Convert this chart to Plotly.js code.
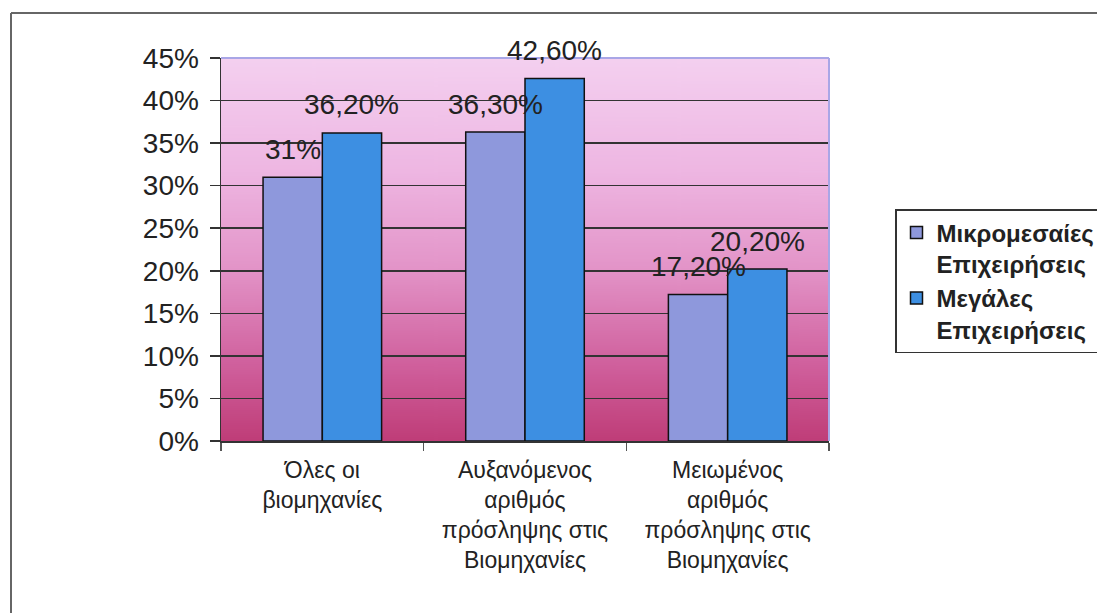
<!DOCTYPE html>
<html>
<head>
<meta charset="utf-8">
<script src="https://cdn.plot.ly/plotly-3.0.1.min.js"></script>
<style>
html,body{margin:0;padding:0;background:#fff;}
#chart{width:1097px;height:613px;}
</style>
</head>
<body>
<div id="chart"></div>
<script>
// ---- data ----
const categories = [
  'Όλες οι<br>βιομηχανίες',
  'Αυξανόμενος<br>αριθμός<br>πρόσληψης στις<br>Βιομηχανίες',
  'Μειωμένος<br>αριθμός<br>πρόσληψης στις<br>Βιομηχανίες'
];
const seriesNames = ['Μικρομεσαίες<br>Επιχειρήσεις', 'Μεγάλες<br>Επιχειρήσεις'];
const smeValues = [0.31, 0.363, 0.172];
const largeValues = [0.362, 0.426, 0.202];
const smeLabels = ['31%', '36,30%', '17,20%'];
const largeLabels = ['36,20%', '42,60%', '20,20%'];
const yTickValues = [0, 0.05, 0.10, 0.15, 0.20, 0.25, 0.30, 0.35, 0.40, 0.45];
const yTickLabels = ['0%', '5%', '10%', '15%', '20%', '25%', '30%', '35%', '40%', '45%'];

// ---- style ----
const W = 1097, H = 613;
const M = {l: 221, r: 268, t: 58, b: 172, autoexpand: false};
const BARGAP = 0.415;
const FONT = 'Liberation Sans, Arial, sans-serif';
const colors = ['#8e98dc', '#3d8fe2'];
const labelShift = 28;

// gradient background image
function gradientURL() {
  const c = document.createElement('canvas');
  c.width = 10; c.height = 400;
  const g = c.getContext('2d');
  const grd = g.createLinearGradient(0, 0, 0, 400);
  grd.addColorStop(0, '#f4d0f0');
  grd.addColorStop(0.3, '#eeb6e2');
  grd.addColorStop(0.55, '#e394c8');
  grd.addColorStop(0.8, '#d0609d');
  grd.addColorStop(1, '#bf3d78');
  g.fillStyle = grd;
  g.fillRect(0, 0, 10, 400);
  return c.toDataURL();
}

const traces = [
  {type: 'bar', x: categories, y: smeValues, name: seriesNames[0],
   marker: {color: colors[0], line: {color: '#111', width: 1.5}}, hoverinfo: 'none'},
  {type: 'bar', x: categories, y: largeValues, name: seriesNames[1],
   marker: {color: colors[1], line: {color: '#111', width: 1.5}}, hoverinfo: 'none'}
];

const off = (1 - BARGAP) / 4;
const annotations = [];
[[smeValues, smeLabels, -off], [largeValues, largeLabels, off]].forEach(([vals, labs, o]) => {
  vals.forEach((v, i) => {
    annotations.push({
      x: i + o, y: v, xref: 'x', yref: 'y', text: labs[i], showarrow: false,
      xanchor: 'center', yanchor: 'middle', yshift: labelShift,
      font: {family: FONT, size: 28, color: '#222'}
    });
  });
});

const pw = W - M.l - M.r, ph = H - M.t - M.b;
const px = v => (v - M.l) / pw;
const py = v => (H - M.b - v) / ph;

const shapes = [
  // plot area border top & right (lavender)
  {type: 'line', xref: 'paper', yref: 'paper', x0: 0, x1: 1, y0: 1, y1: 1, line: {color: '#a9a6e6', width: 2}, layer: 'above'},
  {type: 'line', xref: 'paper', yref: 'paper', x0: 1, x1: 1, y0: 0, y1: 1, line: {color: '#a9a6e6', width: 2}, layer: 'above'},
  // outer frame left & top
  {type: 'line', xref: 'paper', yref: 'paper', x0: px(11), x1: px(11), y0: py(13), y1: py(613), line: {color: '#666', width: 2}},
  {type: 'line', xref: 'paper', yref: 'paper', x0: px(11), x1: px(1097), y0: py(13), y1: py(13), line: {color: '#666', width: 2}}
];

const layout = {
  width: W, height: H,
  margin: M,
  paper_bgcolor: '#fff',
  plot_bgcolor: 'rgba(0,0,0,0)',
  barmode: 'group',
  bargap: BARGAP,
  bargroupgap: 0,
  font: {family: FONT, color: '#222'},
  showlegend: true,
  legend: {
    x: px(895), y: py(209), xanchor: 'left', yanchor: 'top',
    bgcolor: '#fff', bordercolor: '#333', borderwidth: 1.5,
    font: {family: FONT, size: 24, color: '#222', weight: 'bold'},
    valign: 'top', itemwidth: 30, tracegroupgap: 0
  },
  xaxis: {
    type: 'category',
    showgrid: false,
    showline: true, linecolor: '#333', linewidth: 1.5,
    ticks: 'outside', tickson: 'boundaries', ticklen: 8, tickcolor: '#555', tickwidth: 1.5,
    ticklabelstandoff: 8,
    tickfont: {family: FONT, size: 23, color: '#222'},
    fixedrange: true
  },
  yaxis: {
    range: [0, 0.45],
    tickvals: yTickValues, ticktext: yTickLabels,
    showgrid: true, gridcolor: '#333', gridwidth: 1.5,
    showline: true, linecolor: '#333', linewidth: 1.5,
    ticks: 'outside', ticklen: 10, tickcolor: '#333', tickwidth: 1.5,
    ticklabelstandoff: 5,
    tickfont: {family: FONT, size: 28, color: '#222'},
    zeroline: false, fixedrange: true
  },
  images: [{source: gradientURL(), xref: 'paper', yref: 'paper', x: 0, y: 1, sizex: 1, sizey: 1,
            sizing: 'stretch', xanchor: 'left', yanchor: 'top', layer: 'below'}],
  annotations: annotations,
  shapes: shapes
};

Plotly.newPlot('chart', traces, layout, {displayModeBar: false, staticPlot: true});
</script>
</body>
</html>
